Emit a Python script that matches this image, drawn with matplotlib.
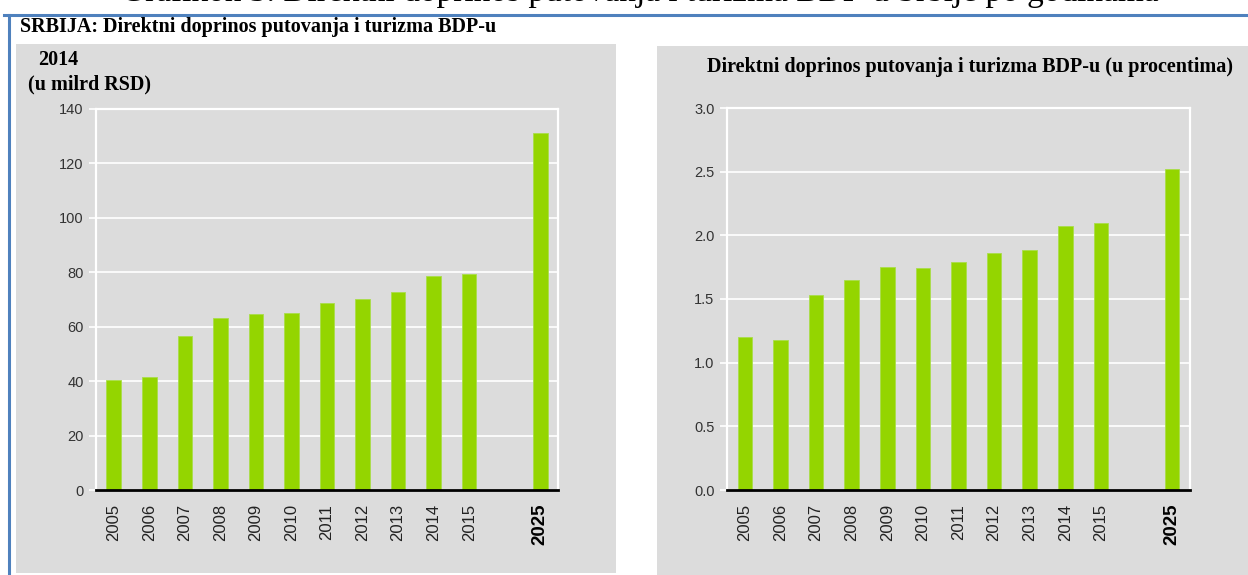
import matplotlib
matplotlib.use("Agg")
import matplotlib.pyplot as plt
from matplotlib.patches import Rectangle
from matplotlib.lines import Line2D

# ---------------- data ----------------
years = ["2005", "2006", "2007", "2008", "2009", "2010", "2011",
         "2012", "2013", "2014", "2015", "", "2025"]
gdp_bn_rsd = [40.5, 41.4, 56.5, 63.1, 64.7, 65.2, 68.7, 70.1, 72.8,
              78.5, 79.3, None, 131.2]
gdp_pct = [1.20, 1.18, 1.535, 1.65, 1.755, 1.745, 1.79, 1.86, 1.885,
           2.07, 2.10, None, 2.52]
left_yticks = [0, 20, 40, 60, 80, 100, 120, 140]
right_yticks = [0.0, 0.5, 1.0, 1.5, 2.0, 2.5, 3.0]

caption = "Grafikon 3. Direktni doprinos putovanja i turizma BDP-u Srbije po godinama"
main_title = "SRBIJA: Direktni doprinos putovanja i turizma BDP-u"
left_title_1 = "2014"
left_title_2 = "(u milrd RSD)"
right_title = "Direktni doprinos putovanja i turizma BDP-u (u procentima)"

# ---------------- style ----------------
W, H = 1248, 575
BAR = "#94d500"
PANEL = "#dcdcdc"
BLUE = "#4f81bd"
SANS = ["Liberation Sans", "DejaVu Sans"]
SERIF = ["Liberation Serif", "DejaVu Serif"]

fig = plt.figure(figsize=(W / 100, H / 100), dpi=100)
fig.patch.set_facecolor("white")


def fx(x):
    return x / W


def fy(y):
    return 1 - y / H


def rect(x0, y0, x1, y1):
    return [fx(x0), fy(y1), fx(x1) - fx(x0), fy(y0) - fy(y1)]


# gray panels
fig.add_artist(Rectangle((fx(16), fy(573)), fx(616) - fx(16), fy(44) - fy(573),
                         transform=fig.transFigure, facecolor=PANEL,
                         edgecolor="none", zorder=0))
fig.add_artist(Rectangle((fx(657), fy(575)), fx(1248) - fx(657), fy(46) - fy(575),
                         transform=fig.transFigure, facecolor=PANEL,
                         edgecolor="none", zorder=0))

# blue frame
fig.add_artist(Line2D([fx(4), fx(1248)], [fy(15), fy(15)], transform=fig.transFigure,
                      color=BLUE, lw=2.2, zorder=1))
fig.add_artist(Line2D([fx(9), fx(9)], [fy(15), fy(575)], transform=fig.transFigure,
                      color=BLUE, lw=2.2, zorder=1))

# texts (the caption line is cut off at the top edge, as in the source image)
fig.text(fx(640), fy(0.5), caption, family=SERIF, fontsize=24, ha="center",
         va="baseline", color="black")
fig.text(fx(20), fy(27), main_title, family=SERIF, fontsize=14.5,
         fontweight="bold", ha="left", va="center")
fig.text(fx(38), fy(60), left_title_1, family=SERIF, fontsize=14.5,
         fontweight="bold", ha="left", va="center")
fig.text(fx(28), fy(84), left_title_2, family=SERIF, fontsize=14.5,
         fontweight="bold", ha="left", va="center")
fig.text(fx(970), fy(67), right_title, family=SERIF, fontsize=14.5,
         fontweight="bold", ha="center", va="center")


def draw(ax, values, yticks, fmt):
    ax.set_facecolor(PANEL)
    xs = list(range(len(years)))
    hx = [x for x, v in zip(xs, values) if v is not None]
    hv = [v for v in values if v is not None]
    ax.bar(hx, hv, width=0.41, color=BAR, edgecolor="#a9dd4a",
           linewidth=0.6, zorder=3)
    ax.set_xlim(-0.5, len(years) - 0.5)
    ax.set_ylim(yticks[0], yticks[-1])
    ax.set_yticks(yticks)
    ax.set_yticklabels([fmt(t) for t in yticks], family=SANS, fontsize=10.5,
                       color="#333333")
    ax.yaxis.grid(True, color="white", lw=1.2, zorder=1)
    ax.set_axisbelow(True)
    ax.tick_params(axis="y", length=5, width=1.2, color="white", pad=4)
    ax.set_xticks([x for x, y in zip(xs, years) if y])
    labels = [y for y in years if y]
    ax.set_xticklabels(labels, rotation=90, family=SANS, fontsize=12,
                       color="#222222", va="top")
    ax.tick_params(axis="x", length=0, pad=10)
    lab = ax.get_xticklabels()[-1]
    lab.set_fontweight("bold")
    lab.set_fontsize(13.5)
    lab.set_color("black")
    for s in ("left", "top", "right"):
        ax.spines[s].set_color("white")
        ax.spines[s].set_linewidth(1.6)
    ax.spines["bottom"].set_color("black")
    ax.spines["bottom"].set_linewidth(2.0)
    ax.spines["bottom"].set_zorder(5)


ax1 = fig.add_axes(rect(96, 109, 558, 490))
draw(ax1, gdp_bn_rsd, left_yticks, lambda t: f"{t:d}")

ax2 = fig.add_axes(rect(727, 108, 1190, 490))
draw(ax2, gdp_pct, right_yticks, lambda t: f"{t:.1f}")

fig.savefig("out.png", dpi=100, facecolor="white")
